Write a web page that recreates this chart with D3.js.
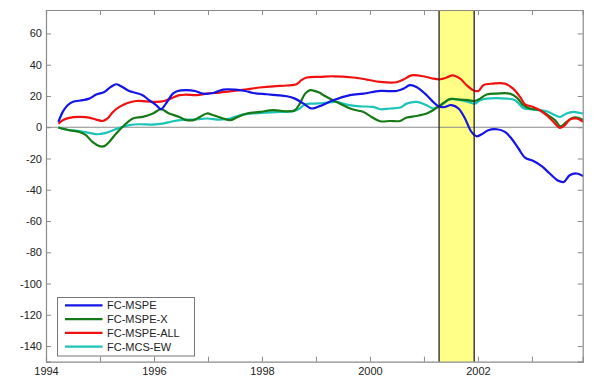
<!DOCTYPE html>
<html><head><meta charset="utf-8">
<script src="https://cdn.jsdelivr.net/npm/d3@7"></script>
<style>body{margin:0;background:#fff}svg{display:block}text{font-family:"Liberation Sans",Arial,sans-serif;font-size:11px;fill:#222}</style>
</head><body><svg id="c" width="600" height="392"></svg>
<script>
const seriesNames = ["FC-MSPE","FC-MSPE-X","FC-MSPE-ALL","FC-MCS-EW"];
const seriesColors = ["#1414e6","#157a15","#f01010","#1cc4b8"];
const xTicks = [1994,1995,1996,1997,1998,1999,2000,2001,2002,2003];
const xTickLabels = ["1994","","1996","","1998","","2000","","2002",""];
const yTicks = [60,40,20,0,-20,-40,-60,-80,-100,-120,-140];
const recession = [2001.28, 2001.93];

const mspeX = [1994.23,1994.31,1994.40,1994.49,1994.68,1994.80,1994.93,1995.08,1995.20,1995.30,1995.39,1995.54,1995.67,1995.79,1995.91,1996.04,1996.13,1996.22,1996.35,1996.44,1996.59,1996.76,1996.91,1997.10,1997.28,1997.50,1997.69,1997.84,1998.09,1998.27,1998.46,1998.61,1998.77,1998.92,1999.07,1999.32,1999.63,1999.88,2000.19,2000.49,2000.62,2000.74,2000.86,2001.02,2001.17,2001.26,2001.36,2001.51,2001.64,2001.76,2001.88,2001.98,2002.07,2002.19,2002.35,2002.50,2002.62,2002.75,2002.87,2003.02,2003.18,2003.33,2003.49,2003.59,2003.70,2003.83,2003.95];
const mspeY = [3.4,9.8,14.1,16.2,17.3,18.3,20.9,22.6,25.8,27.5,26.2,23.2,21.9,20.5,17.3,14.1,11.5,15.1,21.5,23.2,23.7,23.2,21.5,21.9,24.1,24.1,23.2,21.9,21.1,20.5,19.8,18.3,15.1,12.0,13.5,17.3,20.5,21.5,23.2,23.2,24.7,26.9,25.8,21.5,16.2,13.6,12.8,14.2,12.0,5.6,-3.0,-5.8,-4.5,-1.9,-1.3,-3.0,-7.2,-13.6,-19.4,-21.5,-24.9,-29.6,-34.3,-35.0,-30.7,-29.6,-31.3];

const mspeXX = [1994.23,1994.43,1994.62,1994.74,1994.86,1994.99,1995.08,1995.17,1995.30,1995.45,1995.61,1995.79,1995.98,1996.13,1996.28,1996.47,1996.57,1996.73,1996.85,1996.98,1997.10,1997.28,1997.41,1997.53,1997.72,1997.96,1998.21,1998.46,1998.61,1998.70,1998.80,1998.89,1999.07,1999.14,1999.38,1999.69,1999.88,2000.03,2000.19,2000.37,2000.56,2000.68,2000.86,2001.05,2001.17,2001.26,2001.36,2001.48,2001.67,2001.82,2001.94,2002.04,2002.16,2002.35,2002.59,2002.72,2002.84,2002.96,2003.15,2003.27,2003.43,2003.53,2003.64,2003.77,2003.89,2003.95];
const mspeXY = [-0.2,-1.9,-3.0,-5.1,-9.4,-12.1,-12.1,-9.4,-4.0,1.3,5.6,6.6,8.8,11.5,8.8,6.6,4.9,4.5,6.6,8.8,7.7,5.6,4.5,6.2,8.8,9.8,10.9,10.2,10.9,15.1,21.5,23.7,22.0,20.5,16.2,11.3,9.8,6.6,3.8,4.0,4.0,6.2,7.2,8.8,10.9,13.0,15.5,18.0,17.7,17.3,16.8,18.3,20.9,21.5,21.5,19.0,14.1,12.0,10.9,8.3,4.5,0.6,3.4,6.2,5.6,4.5];

const mspeAllX = [1994.23,1994.31,1994.43,1994.62,1994.80,1994.93,1995.05,1995.14,1995.24,1995.36,1995.51,1995.67,1995.85,1996.04,1996.19,1996.31,1996.47,1996.59,1996.79,1996.98,1997.22,1997.47,1997.72,1997.96,1998.21,1998.46,1998.64,1998.73,1998.83,1999.07,1999.32,1999.69,1999.94,2000.19,2000.49,2000.62,2000.77,2000.99,2001.17,2001.30,2001.42,2001.53,2001.67,2001.79,2001.91,2002.01,2002.10,2002.28,2002.50,2002.65,2002.78,2002.87,2003.02,2003.15,2003.27,2003.40,2003.52,2003.61,2003.70,2003.83,2003.95];
const mspeAllY = [2.3,4.5,6.0,6.6,6.2,4.9,4.0,5.6,9.8,13.0,15.5,16.8,16.6,16.2,16.8,18.3,20.5,20.8,20.5,21.5,22.2,23.2,24.3,25.4,26.2,26.7,27.5,30.1,31.8,32.2,32.6,31.8,30.5,29.0,28.8,30.5,33.2,32.6,31.1,30.7,31.8,33.2,31.1,26.9,23.7,23.2,26.9,27.9,27.9,24.7,19.4,14.7,13.0,10.9,7.7,3.4,-0.4,1.3,4.9,5.6,3.4];

const mcsX = [1994.23,1994.43,1994.62,1994.80,1994.96,1995.11,1995.24,1995.36,1995.54,1995.73,1995.98,1996.16,1996.35,1996.52,1996.73,1996.98,1997.22,1997.41,1997.59,1997.84,1998.09,1998.33,1998.58,1998.70,1998.80,1998.95,1999.14,1999.38,1999.57,1999.81,2000.06,2000.19,2000.37,2000.56,2000.68,2000.86,2001.05,2001.17,2001.26,2001.36,2001.48,2001.67,2001.82,2001.94,2002.04,2002.16,2002.53,2002.69,2002.84,2003.02,2003.27,2003.43,2003.52,2003.64,2003.77,2003.89,2003.95];
const mcsY = [-0.2,-1.9,-2.4,-3.6,-4.5,-3.6,-1.9,-0.4,1.3,1.9,1.7,2.3,3.8,4.7,4.9,5.6,4.9,5.6,7.7,8.8,9.4,9.8,10.2,12.0,14.7,15.1,15.5,16.2,14.5,13.4,13.0,11.5,12.0,12.6,15.1,16.2,14.1,12.0,13.0,15.1,18.0,17.3,16.2,15.1,17.3,18.3,18.3,17.3,12.3,11.3,10.2,7.7,6.6,8.8,9.8,9.1,8.8];

const seriesX = [mspeX, mspeXX, mspeAllX, mcsX];
const seriesY = [mspeY, mspeXY, mspeAllY, mcsY];

const svg = d3.select("#c");
const L = 46, R = 582.7, T = 10, B = 361.7;
const x = d3.scaleLinear().domain([1994, 2003.94]).range([L, R]);
const y = d3.scaleLinear().domain([-150, 75]).range([B, T]);
const axisColor = "#8a8a8a";

// recession band
svg.append("rect").attr("x", x(recession[0])).attr("y", T)
  .attr("width", x(recession[1]) - x(recession[0])).attr("height", B - T)
  .attr("fill", "#ffff88");

// zero line
svg.append("line").attr("x1", L).attr("x2", R).attr("y1", y(0)).attr("y2", y(0))
  .attr("stroke", axisColor).attr("stroke-width", 1.2);

// lines
const line = d3.line().x(d => x(d[0])).y(d => y(d[1])).curve(d3.curveCatmullRom.alpha(0.5));
[3,1,2,0].forEach(i => {
  const pts = seriesX[i].map((v, k) => [v, seriesY[i][k]]);
  svg.append("path").datum(pts).attr("d", line).attr("fill", "none")
    .attr("stroke", seriesColors[i]).attr("stroke-width", 2.2).attr("stroke-linejoin", "round");
});

// recession borders
recession.forEach(r => svg.append("line").attr("x1", x(r)).attr("x2", x(r)).attr("y1", T).attr("y2", B)
  .attr("stroke", "#222").attr("stroke-width", 1.3));

// axes box and ticks
const ax = svg.append("g");
const xb = d3.axisBottom(x).tickValues(xTicks).tickSize(-5).tickPadding(6).tickFormat((d, i) => xTickLabels[i]);
const xt = d3.axisTop(x).tickValues(xTicks).tickSize(-5).tickFormat("");
const yl = d3.axisLeft(y).tickValues(yTicks).tickSize(-5).tickPadding(4).tickFormat(d => String(d));
const yr = d3.axisRight(y).tickValues(yTicks).tickSize(-5).tickFormat("");
ax.append("g").attr("transform", `translate(0,${B})`).call(xb);
ax.append("g").attr("transform", `translate(0,${T})`).call(xt);
ax.append("g").attr("transform", `translate(${L},0)`).call(yl);
ax.append("g").attr("transform", `translate(${R},0)`).call(yr);
ax.selectAll(".domain").attr("stroke", axisColor).attr("stroke-width", 1.2);
ax.selectAll(".tick line").attr("stroke", axisColor);
ax.selectAll("text").attr("font-size", 11.5).attr("fill", "#1a1a1a").attr("font-family", "Liberation Sans, Arial, sans-serif");

// legend
const lg = svg.append("g");
lg.append("rect").attr("x", 57.5).attr("y", 297.5).attr("width", 137).attr("height", 58.5)
  .attr("fill", "#fff").attr("stroke", "#777").attr("stroke-width", 1);
seriesNames.forEach((n, i) => {
  const yy = 305.3 + i * 13.8;
  lg.append("line").attr("x1", 65).attr("x2", 102.5).attr("y1", yy).attr("y2", yy)
    .attr("stroke", seriesColors[i]).attr("stroke-width", 2.2);
  lg.append("text").attr("x", 107).attr("y", yy).attr("dy", "0.35em")
    .attr("font-size", 12).attr("fill", "#1a1a1a").text(n);
});
</script></body></html>
